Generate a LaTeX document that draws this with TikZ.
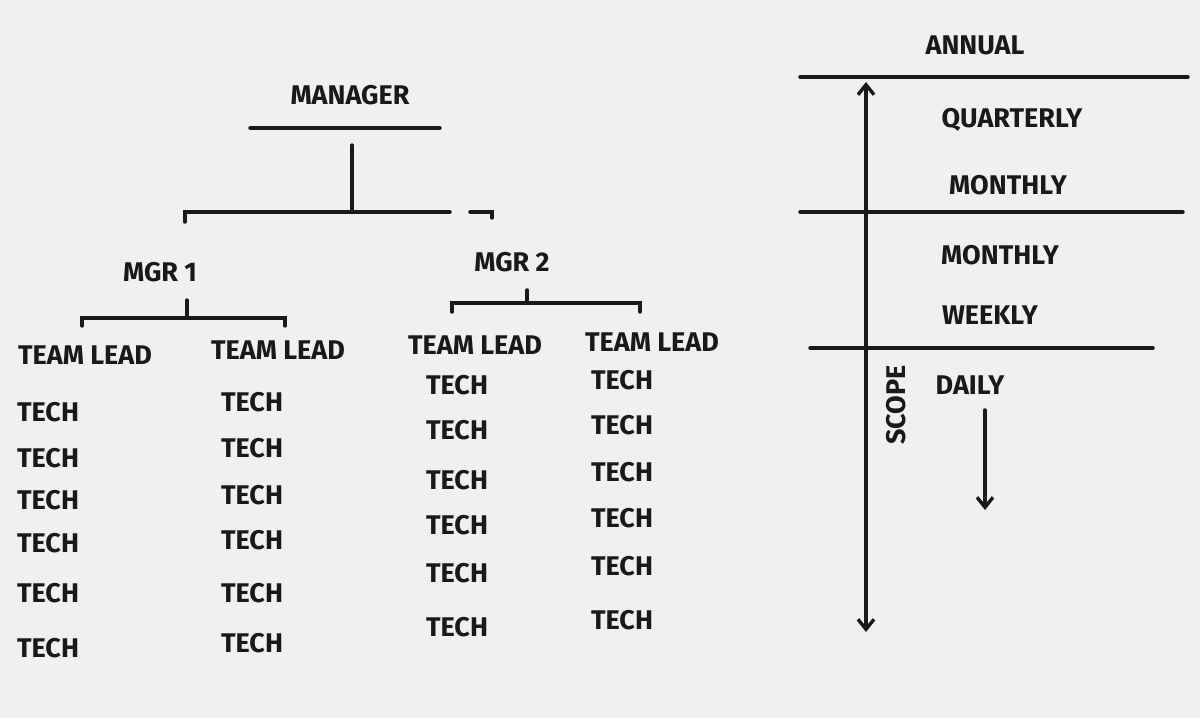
\documentclass[tikz,border=0pt]{standalone}
\usepackage{fontspec}
\usetikzlibrary{arrows.meta}
\setmainfont{Fira Sans}
\begin{document}
\begin{tikzpicture}[x=1pt,y=-1pt,
  hand/.style={font=\fontsize{27}{27}\selectfont\bfseries, text=black!90},
  ln/.style={line width=3.4pt, black!90, line cap=round},
  arr/.style={ln, -{Straight Barb[length=10pt,width=16pt]}}]
\useasboundingbox (0,0) rectangle (1200,718);
\fill[gray!12] (0,0) rectangle (1200,718);
% left tree
\node[hand] (mgr) at (350,95) {MANAGER};
\coordinate (mu1) at (250,128); \coordinate (mu2) at (440,128);
\draw[ln] (mu1) -- (mu2);
\coordinate (v1) at (352,145); \coordinate (v2) at (352,210);
\draw[ln] (v1) -- (v2);
\coordinate (h1) at (185,212); \coordinate (h2) at (450,212);
\draw[ln] (185,222) -- (h1) -- (h2);
\draw[ln] (470,212) -- (492,212) -- (492,218);
\node[hand] (m1) at (160,272) {MGR 1};
\node[hand] (m2) at (512,262) {MGR 2};
\draw[ln] (82,326) -- (82,318) -- (285,318) -- (285,326);
\draw[ln] (187,318) -- (187,300);
\draw[ln] (452,312) -- (452,303) -- (640,303) -- (640,312);
\draw[ln] (527,303) -- (527,290);
\node[hand] (t1) at (85,355) {TEAM LEAD};
\node[hand] (t2) at (278,350) {TEAM LEAD};
\node[hand] (t3) at (475,345) {TEAM LEAD};
\node[hand] (t4) at (652,342) {TEAM LEAD};
\foreach \y [count=\i] in {412,458,500,543,593,648} \node[hand] (a\i) at (48,\y) {TECH};
\foreach \y [count=\i] in {402,448,495,540,593,643} \node[hand] (b\i) at (252,\y) {TECH};
\foreach \y [count=\i] in {385,430,480,525,573,627} \node[hand] (c\i) at (457,\y) {TECH};
\foreach \y [count=\i] in {380,425,472,518,566,620} \node[hand] (d\i) at (622,\y) {TECH};
% right scale
\node[hand] (an) at (975,45) {ANNUAL};
\draw[ln] (800,77) -- (1188,77);
\node[hand] (q) at (1012,120) {QUARTERLY};
\node[hand] (mo1) at (1008,185) {MONTHLY};
\draw[ln] (800,212) -- (1183,212);
\node[hand] (mo2) at (1000,255) {MONTHLY};
\node[hand] (wk) at (990,315) {WEEKLY};
\draw[ln] (810,348) -- (1153,348);
\node[hand] (dy) at (970,385) {DAILY};
\coordinate (da) at (985,410); \coordinate (db) at (985,510);
\draw[arr] (da) -- (db);
\coordinate (s1) at (866,82); \coordinate (s2) at (866,632);
\draw[ln, {Straight Barb[length=10pt,width=16pt]}-{Straight Barb[length=10pt,width=16pt]}] (s1) -- (s2);
\node[hand, rotate=90] (sc) at (896,405) {SCOPE};
\end{tikzpicture}
\end{document}
